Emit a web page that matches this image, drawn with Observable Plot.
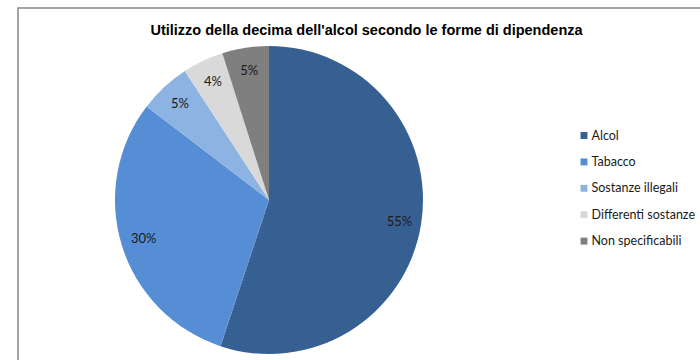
<!DOCTYPE html>
<html>
<head>
<meta charset="utf-8">
<script src="https://cdn.jsdelivr.net/npm/d3@7"></script>
<script src="https://cdn.jsdelivr.net/npm/@observablehq/plot@0.6"></script>
<style>
  html, body { margin: 0; padding: 0; background: #fff; }
</style>
</head>
<body>
<div id="chart"></div>
<script>
const title = "Utilizzo della decima dell'alcol secondo le forme di dipendenza";
const categories = ["Alcol", "Tabacco", "Sostanze illegali", "Differenti sostanze", "Non specificabili"];
const values = [55.1, 30.3, 5.4, 4.3, 4.9];
const valueLabels = ["55%", "30%", "5%", "4%", "5%"];
const colors = ["#376092", "#558ed5", "#8db3e2", "#d9d9d9", "#7f7f7f"];

const data = categories.map((c, i) => ({category: c, value: values[i], label: valueLabels[i], color: colors[i]}));
const arcs = d3.pie().sort(null).value(d => d.value).startAngle(0).endAngle(2 * Math.PI)(data);
const labelR = 0.855;
const labelData = arcs.map(a => {
  const m = (a.startAngle + a.endAngle) / 2;
  return {label: a.data.label, x: labelR * Math.sin(m), y: labelR * Math.cos(m)};
});

const W = 700, H = 360;
const mL = 115, mR = 277, mT = 46, mB = 6;

// pie slices, drawn with the plot's own x/y scales
function pieMark(index, scales) {
  const cx = scales.x(0), cy = scales.y(0);
  const r = Math.abs(scales.x(1) - scales.x(0));
  const g = d3.create("svg:g");
  const arcGen = d3.arc().innerRadius(0).outerRadius(r);
  g.selectAll("path").data(arcs).join("path")
    .attr("transform", `translate(${cx},${cy})`)
    .attr("d", arcGen)
    .attr("fill", d => d.data.color)
    .attr("stroke", "none");
  return g.node();
}

// chart-area border (top and left edges visible)
function borderMark(index, scales, values, dims) {
  const x0 = 18, y0 = 8;
  const g = d3.create("svg:path")
    .attr("d", `M${x0},${dims.height}V${y0}H${dims.width}`)
    .attr("fill", "none")
    .attr("stroke", "#888")
    .attr("stroke-width", 1.5);
  return g.node();
}

const legendX = 583.5, legendY0 = 135, legendStep = 26.4;
const legendMarks = data.flatMap((d, i) => [
  Plot.dot([d], {frameAnchor: "top-left", dx: legendX - mL, dy: legendY0 + i * legendStep - mT,
    symbol: "square", r: 3.9, fill: d.color, stroke: "none"}),
  Plot.text([d], {frameAnchor: "top-left", dx: legendX - mL + 7.5, dy: legendY0 + i * legendStep - mT,
    text: "category", textAnchor: "start", lineAnchor: "middle", fontSize: 12.5, fill: "#1a1a1a", fontFamily: "Lato"})
]);

const chart = Plot.plot({
  width: W, height: H,
  marginLeft: mL, marginRight: mR, marginTop: mT, marginBottom: mB,
  x: {domain: [-1, 1], axis: null},
  y: {domain: [-1, 1], axis: null},
  style: {fontFamily: "Lato", background: "#fff"},
  marks: [
    borderMark,
    pieMark,
    Plot.text(labelData, {x: "x", y: "y", text: "label", fontSize: 13, fill: "#1a1a1a", fontFamily: "Lato"}),
    Plot.text([title], {frameAnchor: "top-left", dx: 366 - mL, dy: 30 - mT, text: d => d,
      textAnchor: "middle", lineAnchor: "middle",
      fontWeight: "bold", fontSize: 14.5, fill: "#000", fontFamily: "Liberation Sans"}),
    ...legendMarks
  ]
});
document.getElementById("chart").appendChild(chart);
</script>
</body>
</html>
